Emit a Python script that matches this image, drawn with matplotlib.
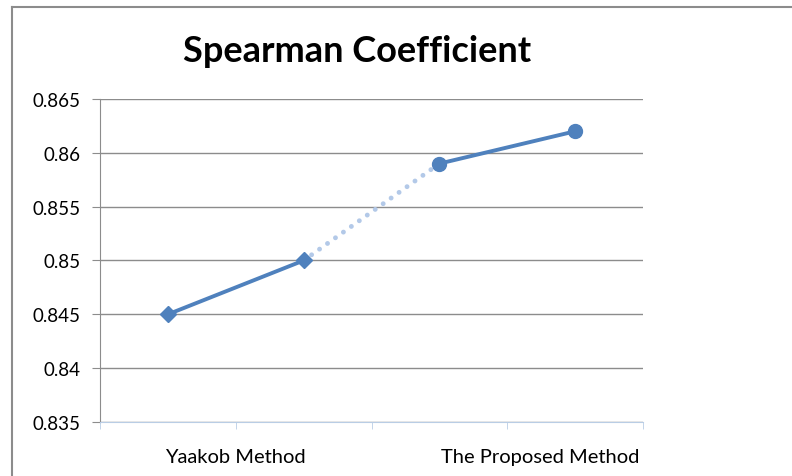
import numpy as np
from matplotlib import pyplot as plt
from matplotlib.lines import Line2D

plt.rcParams['font.family'] = ['Lato', 'DejaVu Sans']

# data
yaakob_y = [0.845, 0.850]
proposed_y = [0.859, 0.862]
link_y = [0.850, 0.859]
y_ticks = [0.835, 0.84, 0.845, 0.85, 0.855, 0.86, 0.865]
y_tick_labels = ["0.835", "0.84", "0.845", "0.85", "0.855", "0.86", "0.865"]
cat_labels = ["Yaakob Method", "The Proposed Method"]
title = "Spearman Coefficient"

blue = "#4F81BD"
light_blue = "#B3C9E8"

fig = plt.figure(figsize=(7.92, 4.77), dpi=100)
ax = fig.add_axes([100 / 792, 1 - 423 / 477, 543 / 792, 323 / 477])

x_pos = np.arange(4) + 0.5
ax.plot(x_pos[1:3], link_y, color=light_blue, lw=3.5, ls=(0, (0.01, 2.0)),
        dash_capstyle="round", zorder=2)
ax.plot(x_pos[:2], yaakob_y, color=blue, lw=2.8, marker="D", ms=8.5,
        zorder=3)
ax.plot(x_pos[2:], proposed_y, color=blue, lw=2.8, marker="o", ms=10,
        zorder=3)

ax.set_xlim(0, 4)
ax.set_ylim(0.835, 0.865)
ax.set_yticks(y_ticks)
ax.set_yticklabels(y_tick_labels)
ax.yaxis.grid(True, color="#8c8c8c", lw=1)
ax.set_axisbelow(True)

ax.xaxis.remove_overlapping_locs = False
ax.set_xticks([1, 3.24])
ax.set_xticklabels(cat_labels, fontsize=14.5)
ax.set_xticks(range(5), minor=True)
ax.tick_params(axis="x", which="minor", length=5, color="#b9cde5",
               direction="out")
ax.tick_params(axis="x", which="major", length=0, pad=19)
ax.tick_params(axis="y", length=6, color="#8c8c8c", labelsize=13.5,
               pad=8)

for s in ["top", "right"]:
    ax.spines[s].set_visible(False)
ax.spines["left"].set_color("#8c8c8c")
ax.spines["bottom"].set_color("#b9cde5")

fig.text(357 / 792, 1 - 52 / 477, title, ha="center", va="center",
         fontsize=26, fontweight="bold")

# chart frame
fig.add_artist(Line2D([12 / 792, 12 / 792], [0, 1 - 8 / 477],
                      transform=fig.transFigure, color="#8c8c8c", lw=1.5))
fig.add_artist(Line2D([12 / 792, 1], [1 - 8 / 477, 1 - 8 / 477],
                      transform=fig.transFigure, color="#8c8c8c", lw=1.5))

fig.savefig("out.png", dpi=100)
